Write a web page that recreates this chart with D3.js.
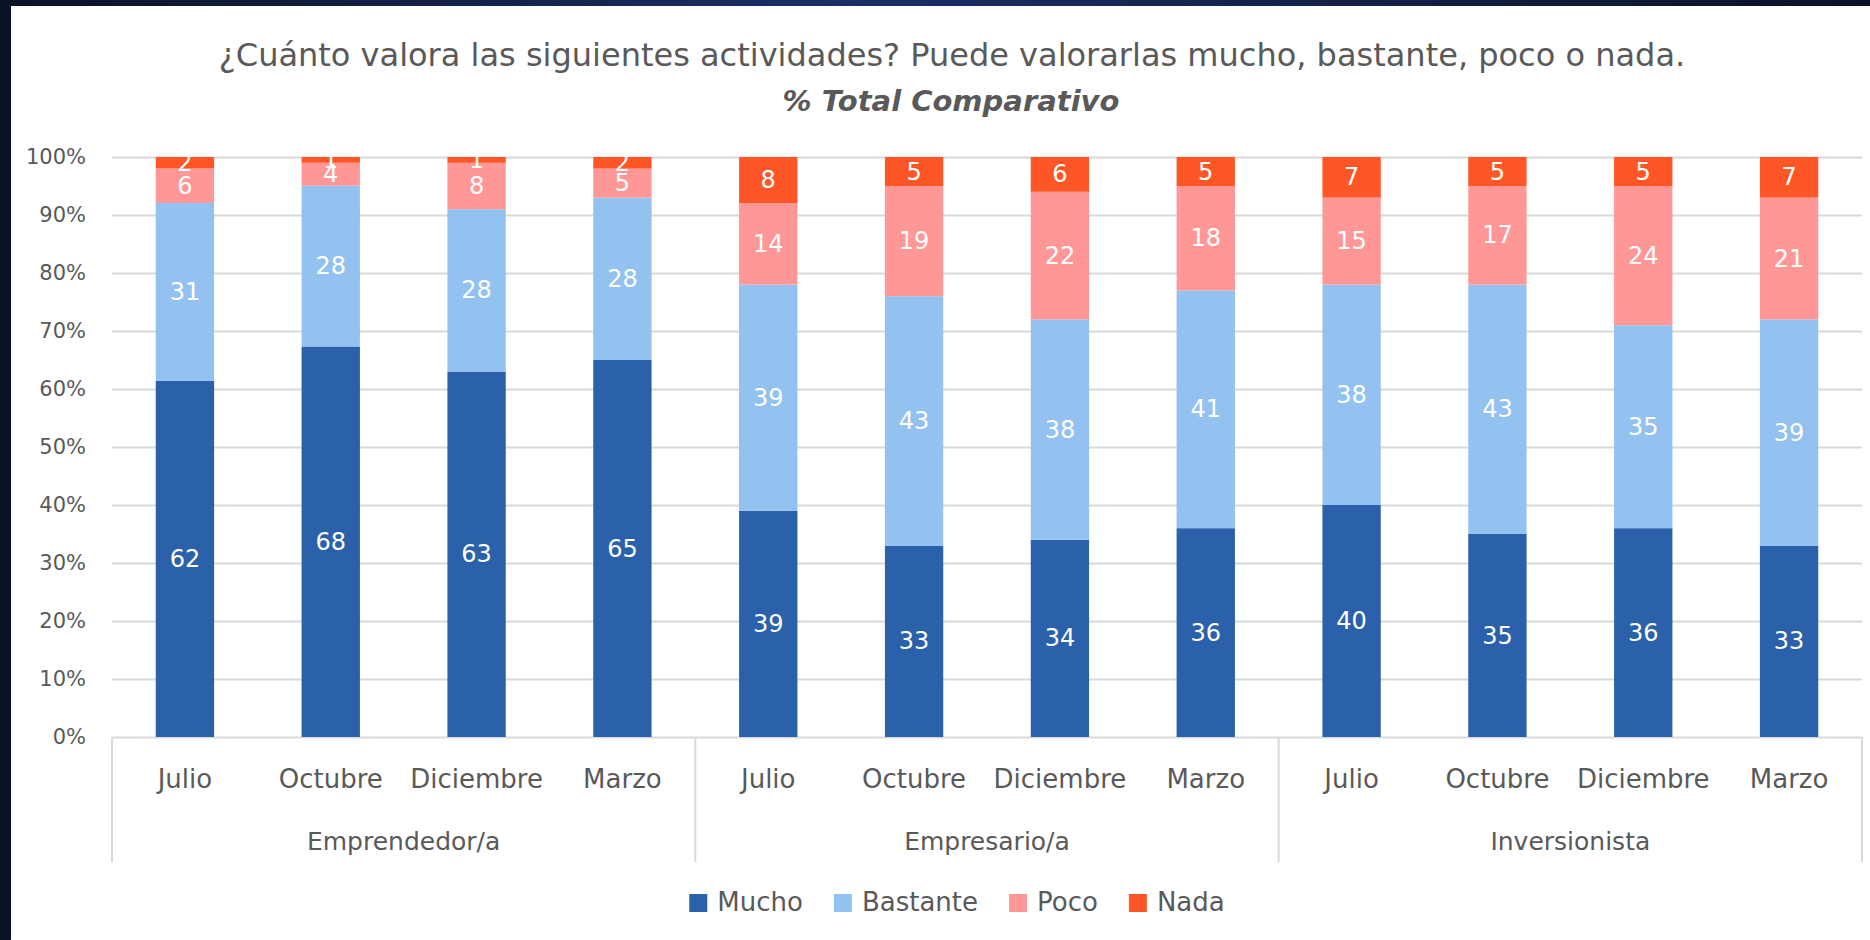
<!DOCTYPE html>
<html lang="es">
<head>
<meta charset="utf-8">
<title>Valoración de actividades - % Total Comparativo</title>
<script src="https://d3js.org/d3.v7.min.js"></script>
<style>
  body { margin: 0; background: #0b1430; }
  svg { display: block; }
  text { font-family: "DejaVu Sans", "Open Sans", sans-serif; }
</style>
</head>
<body>
<script>
// categories
const groups = ["Emprendedor/a", "Empresario/a", "Inversionista"];
const months = ["Julio", "Octubre", "Diciembre", "Marzo"];
const series = ["Mucho", "Bastante", "Poco", "Nada"];

// values (%), one per group x month, in order
const mucho    = [62, 68, 63, 65,  39, 33, 34, 36,  40, 35, 36, 33];
const bastante = [31, 28, 28, 28,  39, 43, 38, 41,  38, 43, 35, 39];
const poco     = [ 6,  4,  8,  5,  14, 19, 22, 18,  15, 17, 24, 21];
const nada     = [ 2,  1,  1,  2,   8,  5,  6,  5,   7,  5,  5,  7];

const yTicks = [0, .1, .2, .3, .4, .5, .6, .7, .8, .9, 1];
const colors = ["#2b60aa", "#93c1f0", "#ff9797", "#ff5627"];

const W = 1870, H = 940;
const plot = {left: 112, right: 1862, top: 157, bottom: 737};

// build rows for d3.stack
const rows = [];
groups.forEach((g, gi) => {
  months.forEach((m, mi) => {
    const i = gi * months.length + mi;
    rows.push({key: g + "|" + m, group: g, month: m,
      Mucho: mucho[i], Bastante: bastante[i], Poco: poco[i], Nada: nada[i]});
  });
});

const svg = d3.select("body").append("svg")
  .attr("width", W).attr("height", H);

// dark frame + white panel
const defs = svg.append("defs");
const grad = defs.append("linearGradient").attr("id", "frame")
  .attr("x1", 0).attr("x2", 1).attr("y1", 0).attr("y2", 0);
grad.append("stop").attr("offset", "0%").attr("stop-color", "#0a1226");
grad.append("stop").attr("offset", "45%").attr("stop-color", "#1b2f66");
grad.append("stop").attr("offset", "100%").attr("stop-color", "#0a1226");
svg.append("rect").attr("width", W).attr("height", H).attr("fill", "url(#frame)");
svg.append("rect").attr("x", 11).attr("y", 6)
  .attr("width", W - 11).attr("height", H - 6).attr("fill", "#fff");

// scales
const x = d3.scaleBand()
  .domain(rows.map(d => d.key))
  .range([plot.left, plot.right])
  .paddingInner(0.6)
  .paddingOuter(0.3);

const y = d3.scaleLinear().domain([0, 1]).range([plot.bottom, plot.top]);

// gridlines
svg.append("g")
  .attr("transform", "translate(" + plot.left + ",0)")
  .call(d3.axisLeft(y).tickValues(yTicks).tickSize(-(plot.right - plot.left)).tickFormat(""))
  .call(g => g.select(".domain").remove())
  .call(g => g.selectAll("line").attr("stroke", "#d9d9d9").attr("stroke-width", 2));

// y labels
svg.append("g")
  .attr("transform", "translate(" + 86 + ",0)")
  .call(d3.axisLeft(y).tickValues(yTicks).tickSize(0).tickPadding(0).tickFormat(d3.format(".0%")))
  .call(g => g.select(".domain").remove())
  .call(g => g.selectAll("text")
    .attr("fill", "#595959")
    .style("font-size", "21px")
    .style("font-family", "'DejaVu Sans', sans-serif"));

// stacked bars (100%)
const stack = d3.stack().keys(series).offset(d3.stackOffsetExpand);
const stacked = stack(rows);

const layer = svg.selectAll(".layer")
  .data(stacked)
  .join("g")
  .attr("class", "layer")
  .attr("fill", (d, i) => colors[i]);

layer.selectAll("rect")
  .data(d => d)
  .join("rect")
  .attr("x", d => x(d.data.key))
  .attr("width", x.bandwidth())
  .attr("y", d => y(d[1]))
  .attr("height", d => y(d[0]) - y(d[1]));

// value labels
layer.each(function(s) {
  d3.select(this).selectAll("text")
    .data(s)
    .join("text")
    .attr("x", d => x(d.data.key) + x.bandwidth() / 2)
    .attr("y", d => y((d[0] + d[1]) / 2))
    .attr("text-anchor", "middle")
    .attr("dominant-baseline", "central")
    .attr("fill", "#fff")
    .style("font-size", "24px")
    .text(d => d.data[s.key]);
});

// category axis: month labels, group labels, separators
const step = x.step();
svg.selectAll(".month")
  .data(rows)
  .join("text")
  .attr("class", "month")
  .attr("x", d => x(d.key) + x.bandwidth() / 2)
  .attr("y", 788)
  .attr("text-anchor", "middle")
  .attr("fill", "#595959")
  .style("font-size", "26px")
  .text(d => d.month);

const groupWidth = step * months.length;
svg.selectAll(".grp")
  .data(groups)
  .join("text")
  .attr("class", "grp")
  .attr("x", (d, i) => plot.left + groupWidth * i + groupWidth / 2)
  .attr("y", 850)
  .attr("text-anchor", "middle")
  .attr("fill", "#595959")
  .style("font-size", "25px")
  .text(d => d);

svg.selectAll(".sep")
  .data(d3.range(groups.length + 1))
  .join("line")
  .attr("class", "sep")
  .attr("x1", i => plot.left + groupWidth * i)
  .attr("x2", i => plot.left + groupWidth * i)
  .attr("y1", plot.bottom)
  .attr("y2", 862)
  .attr("stroke", "#d9d9d9")
  .attr("stroke-width", 2);

// title
svg.append("text")
  .attr("x", 952).attr("y", 66)
  .attr("text-anchor", "middle")
  .attr("fill", "#595959")
  .style("font-size", "32px")
  .text("¿Cuánto valora las siguientes actividades? Puede valorarlas mucho, bastante, poco o nada.");

svg.append("text")
  .attr("x", 951).attr("y", 111)
  .attr("text-anchor", "middle")
  .attr("fill", "#595959")
  .style("font-size", "29px")
  .style("font-weight", "bold")
  .style("font-style", "italic")
  .text("% Total Comparativo");

// legend
const legend = svg.append("g");
const items = legend.selectAll("g")
  .data(series)
  .join("g");
items.append("rect")
  .attr("width", 18).attr("height", 18)
  .attr("y", -17)
  .attr("fill", (d, i) => colors[i]);
items.append("text")
  .attr("x", 28)
  .attr("y", 0)
  .attr("fill", "#595959")
  .style("font-size", "26px")
  .text(d => d);
let lx = 0;
items.each(function() {
  const g = d3.select(this);
  g.attr("transform", "translate(" + lx + ",0)");
  lx += 28 + g.select("text").node().getComputedTextLength() + 31;
});
lx -= 31;
legend.attr("transform", "translate(" + (957 - lx / 2) + ",911)");
</script>
</body>
</html>
